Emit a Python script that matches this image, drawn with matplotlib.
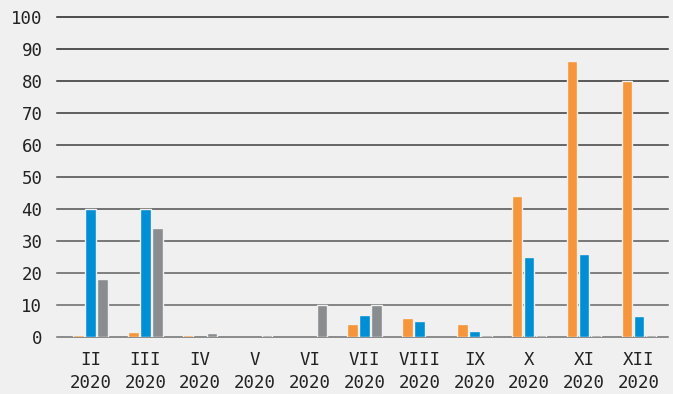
import matplotlib
matplotlib.use("Agg")
import matplotlib.pyplot as plt
import numpy as np
from matplotlib.colors import to_rgb

months = ["II", "III", "IV", "V", "VI", "VII", "VIII", "IX", "X", "XI", "XII"]
year = "2020"
series_orange = [0.5, 1.7, 0.5, 0, 0, 4.2, 6.0, 4.1, 44.2, 86.4, 80.0]
series_blue = [40, 40, 0, 0, 0, 6.8, 4.9, 1.9, 25.0, 25.8, 6.7]
series_gray = [18.2, 34.2, 1.4, 0.5, 10, 10, 0, 0.5, 0.5, 0.5, 0.5]
yticks = [0, 10, 20, 30, 40, 50, 60, 70, 80, 90, 100]

colors = ["#f7953a", "#008fd5", "#8a8d90"]
bg = "#f0f0f0"

W, H = 673, 394
fig = plt.figure(figsize=(W / 100, H / 100), dpi=100, facecolor=bg)
ax = fig.add_axes([57 / W, 1 - 337 / H, (668 - 57) / W, (337 - 17) / H], facecolor=bg)

x = np.arange(len(months))
off = 0.219
bw = 0.19
ax.set_xlim(-0.61, 10.53)
ax.set_ylim(0, 100)

# gridlines: gradient from grey (bottom) to near-black (top)
c0 = np.array(to_rgb("#707070"))
c1 = np.array(to_rgb("#1e1e1e"))
for i, t in enumerate(yticks):
    f = i / (len(yticks) - 1)
    c = c0 * (1 - f) + c1 * f
    ax.axhline(t, color=c, lw=1.1, zorder=1, clip_on=False)

for k, (vals, col) in enumerate(zip([series_orange, series_blue, series_gray], colors)):
    edges = [bg if v > 0 else "none" for v in vals]
    ax.bar(x + (k - 1) * off, vals, width=bw, color=col, edgecolor=edges,
           linewidth=1.0, zorder=2)

for s in ax.spines.values():
    s.set_visible(False)

font = "DejaVu Sans Mono"
ax.set_yticks(yticks)
ax.set_yticklabels([str(t) for t in yticks], fontsize=12.5, family=font, color="#222222")
ax.tick_params(axis="y", length=0, pad=10.5)
ax.set_xticks(x)
ax.set_xticklabels([f"{m}\n{year}" for m in months], fontsize=12.5, family=font,
                   color="#222222", linespacing=1.35)
ax.tick_params(axis="x", length=0, pad=10)

fig.savefig("out.png", dpi=100, facecolor=bg)
